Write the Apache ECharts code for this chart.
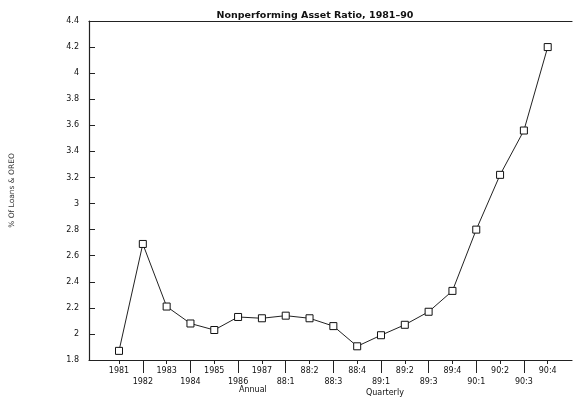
<!DOCTYPE html>
<html><head><meta charset="utf-8">
<script src="https://cdn.jsdelivr.net/npm/echarts@6/dist/echarts.min.js"></script>
<style>html,body{margin:0;padding:0;background:#fff}#c{width:574px;height:402px}</style>
</head><body><div id="c"></div>
<script>
const categories = ['1981','1982','1983','1984','1985','1986','1987','88:1','88:2','88:3','88:4','89:1','89:2','89:3','89:4','90:1','90:2','90:3','90:4'];
const ratioValues = [1.87,2.69,2.21,2.08,2.03,2.13,2.12,2.14,2.12,2.06,1.905,1.99,2.07,2.17,2.33,2.80,3.22,3.56,4.20];
const yTicks = [1.8,2.0,2.2,2.4,2.6,2.8,3.0,3.2,3.4,3.6,3.8,4.0,4.2,4.4];
const titleText = 'Nonperforming Asset Ratio, 1981\u201390';
const yTitle = '% Of Loans & OREO';
const groupLabels = ['Annual','Quarterly'];

const idx = categories.map((_, i) => i);
const evenIdx = idx.filter(i => i % 2 === 0);
const oddIdx = idx.filter(i => i % 2 === 1);
const font = 'DejaVu Sans';
const chart = echarts.init(document.getElementById('c'), null, {renderer: 'canvas'});
const xMin = -1.26, xMax = 19.02;
chart.setOption({
  animation: false,
  backgroundColor: '#fff',
  title: {
    text: titleText, left: 310, top: 6, textAlign: 'center',
    textStyle: {fontFamily: font, fontSize: 9.5, fontWeight: 'bold', color: '#111'}
  },
  grid: {left: 89, right: 2, top: 21, bottom: 42},
  xAxis: [
    {
      type: 'value', min: xMin, max: xMax, position: 'bottom',
      axisLine: {show: true, onZero: false, lineStyle: {color: '#222', width: 1.2}},
      axisTick: {show: true, inside: false, length: 4, customValues: evenIdx, lineStyle: {color: '#222'}},
      axisLabel: {show: true, customValues: idx, margin: 5,
        fontFamily: font, fontSize: 8, color: '#111', lineHeight: 11,
        formatter: v => (v % 2 === 1 ? '\n' : '') + categories[Math.round(v)]},
      splitLine: {show: false}
    },
    {
      type: 'value', min: xMin, max: xMax, position: 'bottom',
      axisLine: {show: false, onZero: false},
      axisTick: {show: true, inside: false, length: 13, customValues: oddIdx, lineStyle: {color: '#222'}},
      axisLabel: {show: false},
      splitLine: {show: false}
    },
    {
      type: 'value', min: xMin, max: xMax, position: 'top',
      axisLine: {show: true, onZero: false, lineStyle: {color: '#222', width: 1.2}},
      axisTick: {show: false}, axisLabel: {show: false}, splitLine: {show: false}
    }
  ],
  yAxis: {
    type: 'value', min: yTicks[0], max: yTicks[yTicks.length - 1], interval: 0.2,
    position: 'left',
    axisLine: {show: true, onZero: false, lineStyle: {color: '#222', width: 1.2}},
    axisTick: {show: true, inside: true, length: 6, lineStyle: {color: '#222'}},
    axisLabel: {fontFamily: font, fontSize: 8, color: '#111', margin: 10,
      formatter: v => String(Math.round(v * 10) / 10)},
    splitLine: {show: false},
    name: yTitle, nameLocation: 'middle', nameGap: 73, nameRotate: 90,
    nameTextStyle: {fontFamily: font, fontSize: 7.5, color: '#333'}
  },
  graphic: [
    {type: 'text', left: 239, top: 386, style: {text: groupLabels[0], font: '8px "DejaVu Sans"', fill: '#111'}},
    {type: 'text', left: 366, top: 389, style: {text: groupLabels[1], font: '8px "DejaVu Sans"', fill: '#111'}}
  ],
  series: [{
    type: 'line',
    xAxisIndex: 0,
    data: ratioValues.map((v, i) => [i, v]),
    symbol: 'rect', symbolSize: 7,
    itemStyle: {color: '#fff', borderColor: '#111', borderWidth: 1},
    lineStyle: {color: '#222', width: 1},
    z: 5
  }]
});
</script></body></html>
